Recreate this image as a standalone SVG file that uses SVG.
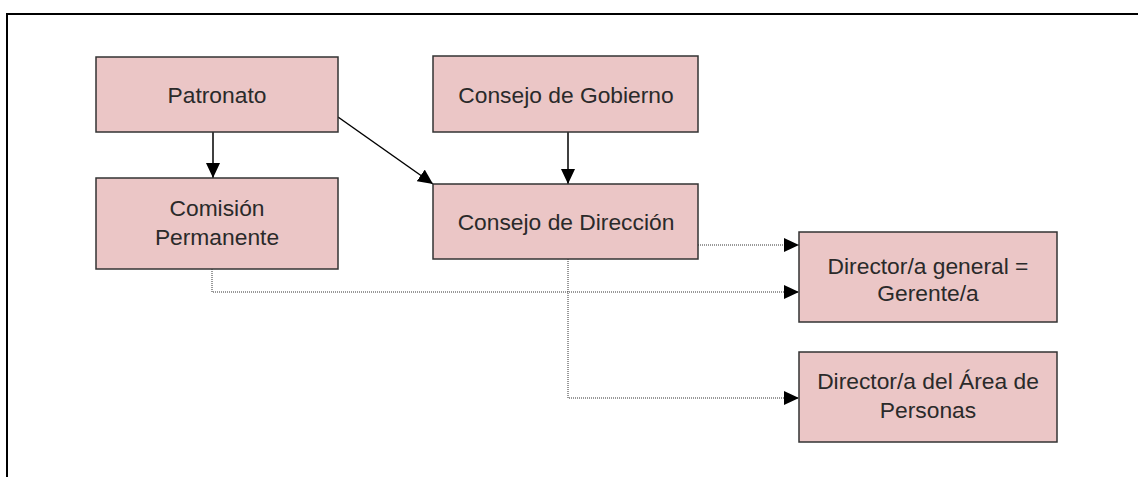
<svg xmlns="http://www.w3.org/2000/svg" width="1138" height="477" viewBox="0 0 1138 477">
<style>
.box{fill:#EBC6C6;stroke:#333333;stroke-width:1.5}
.t{font-family:"Liberation Sans",Arial,sans-serif;font-size:22.8px;fill:#2a2a2a;text-anchor:middle}
.solid{stroke:#000;stroke-width:1.5;fill:none}
.dot{stroke:#333;stroke-width:1;stroke-dasharray:1 1;fill:none}
</style>
<defs>
<marker id="ah" markerWidth="15" markerHeight="14" refX="15" refY="7" orient="auto" markerUnits="userSpaceOnUse">
<path d="M0,0 L15,7 L0,14 Z" fill="#000"/>
</marker>
</defs>
<rect width="1138" height="477" fill="#fff"/>
<g id="frame">
<path d="M7,477 L7,14 L1138,14" stroke="#000" stroke-width="2" fill="none"/>
</g>
<g id="connectors">
<line class="solid" x1="213" y1="132" x2="213" y2="178" marker-end="url(#ah)"/>
<line class="solid" x1="568" y1="132" x2="568" y2="184" marker-end="url(#ah)"/>
<line class="solid" x1="338" y1="117" x2="433" y2="184" marker-end="url(#ah)"/>
<polyline class="dot" points="698,245 799,245" marker-end="url(#ah)"/>
<polyline class="dot" points="212,269 212,292 799,292" marker-end="url(#ah)"/>
<polyline class="dot" points="568,259 568,398 799,398" marker-end="url(#ah)"/>
</g>
<g id="patronato">
<rect class="box" x="96" y="57" width="242" height="75"/>
<text class="t" x="217" y="103">Patronato</text>
</g>
<g id="comision">
<rect class="box" x="96" y="178" width="242" height="91"/>
<text class="t" x="217" y="216">Comisión</text>
<text class="t" x="217" y="245">Permanente</text>
</g>
<g id="consejo-gobierno">
<rect class="box" x="433" y="56" width="265" height="76"/>
<text class="t" x="566" y="103">Consejo de Gobierno</text>
</g>
<g id="consejo-direccion">
<rect class="box" x="433" y="184" width="265" height="75"/>
<text class="t" x="566" y="230">Consejo de Dirección</text>
</g>
<g id="director-general">
<rect class="box" x="799" y="232" width="258" height="90"/>
<text class="t" x="928" y="274">Director/a general =</text>
<text class="t" x="928" y="301">Gerente/a</text>
</g>
<g id="director-personas">
<rect class="box" x="799" y="352" width="258" height="90"/>
<text class="t" x="928" y="389">Director/a del Área de</text>
<text class="t" x="928" y="418">Personas</text>
</g>
</svg>
